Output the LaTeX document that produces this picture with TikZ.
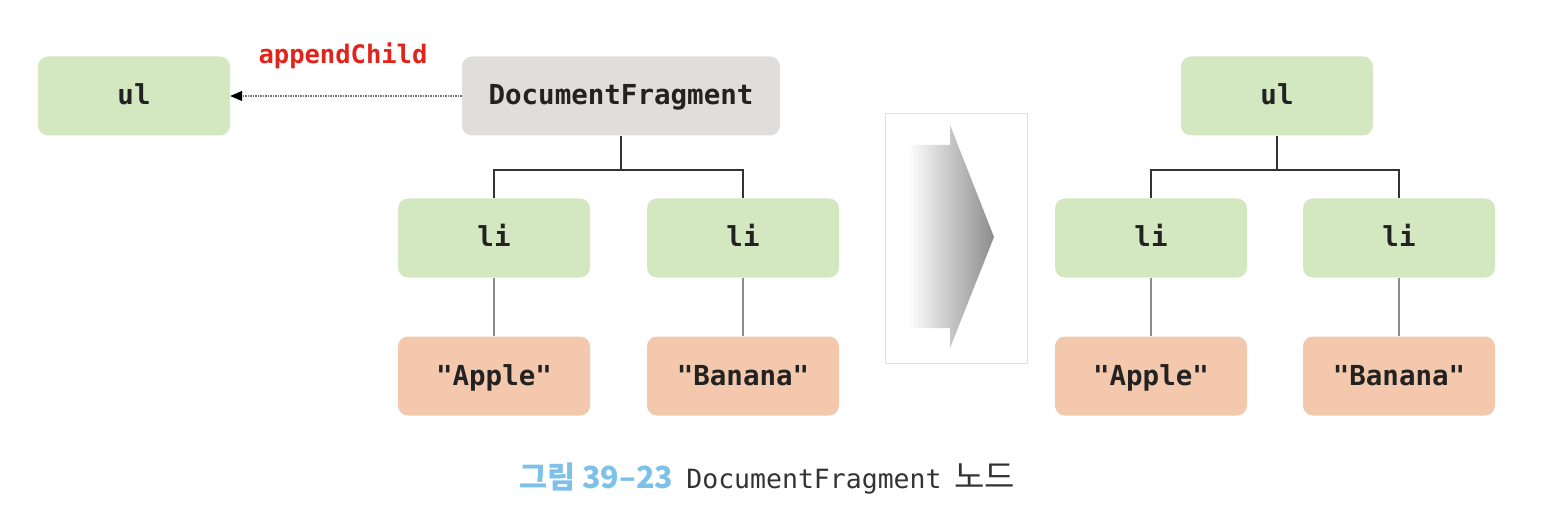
\documentclass[tikz,border=0pt]{standalone}
\usepackage{fontspec}
\setmonofont{DejaVu Sans Mono}
\newfontfamily\kr{Noto Sans CJK KR}
\usetikzlibrary{arrows.meta}
\definecolor{boxgreen}{HTML}{D3E8C0}
\definecolor{boxgray}{HTML}{DFDEDD}
\definecolor{boxsalmon}{HTML}{F3C8AD}
\definecolor{capblue}{HTML}{7DC1E8}
\definecolor{txtdark}{HTML}{222222}
\definecolor{appred}{HTML}{E2231A}
\tikzset{
  nodebox/.style={rounded corners=10pt, minimum width=192pt, minimum height=79pt, inner sep=0pt,
    text height=23pt, text depth=5pt,
    font=\fontsize{27.5}{32}\selectfont\ttfamily\bfseries, text=txtdark},
  elem/.style={nodebox, fill=boxgreen},
  frag/.style={nodebox, fill=boxgray, minimum width=318pt},
  txt/.style={nodebox, fill=boxsalmon},
  treeline/.style={draw=black!80, line width=1.2pt},
  leafline/.style={draw=black!45, line width=1.2pt},
}
\begin{document}
\begin{tikzpicture}[x=1pt,y=-1pt]
\useasboundingbox (0,0) rectangle (1541,529);
% left side
\node[elem] (ul1) at (134,96) {ul};
\node[frag] (df) at (621,96) {DocumentFragment};
\node[elem] (li1) at (494,238) {li};
\node[elem] (li2) at (743,238) {li};
\node[txt] (ap1) at (494,376) {"Apple"};
\node[txt] (ba1) at (743,376) {"Banana"};
\draw[treeline] (df.south) -- (621,170) coordinate (j1);
\draw[treeline] (li1.north) |- (j1) -| (li2.north);
\draw[leafline] (li1) -- (ap1);
\draw[leafline] (li2) -- (ba1);
\draw[black!55, line width=1.2pt, dash pattern=on 1.5pt off 1pt, -{Triangle[length=12pt,width=10pt,black]}] (df.west) -- (ul1.east);
\node[font=\fontsize{25.5}{30}\selectfont\ttfamily\bfseries, text=appred] (lbl) at (343,56) {appendChild};
% middle arrow
\node[draw=black!12, fill=white, minimum width=142pt, minimum height=250pt, inner sep=0pt] (panel) at (956,238) {};
\shade[left color=white, right color=black!45]
  (908,145) -- (950,145) -- (950,125) -- (994,237) -- (950,348) -- (950,328) -- (908,328) -- cycle;
% right side
\node[elem] (ul2) at (1277,96) {ul};
\node[elem] (li3) at (1151,238) {li};
\node[elem] (li4) at (1399,238) {li};
\node[txt] (ap2) at (1151,376) {"Apple"};
\node[txt] (ba2) at (1399,376) {"Banana"};
\draw[treeline] (ul2.south) -- (1277,170) coordinate (j2);
\draw[treeline] (li3.north) |- (j2) -| (li4.north);
\draw[leafline] (li3) -- (ap2);
\draw[leafline] (li4) -- (ba2);
% caption
\node[anchor=base west, inner sep=0pt, text=black!80] (cap) at (519,488)
  {{\fontsize{30.5}{34}\selectfont\kr\bfseries\color{capblue}그림 39–23}\hspace{13pt}{\fontsize{26.5}{30}\selectfont\ttfamily DocumentFragment}\hspace{13pt}{\fontsize{33}{36}\selectfont\kr 노드}};
\end{tikzpicture}
\end{document}
